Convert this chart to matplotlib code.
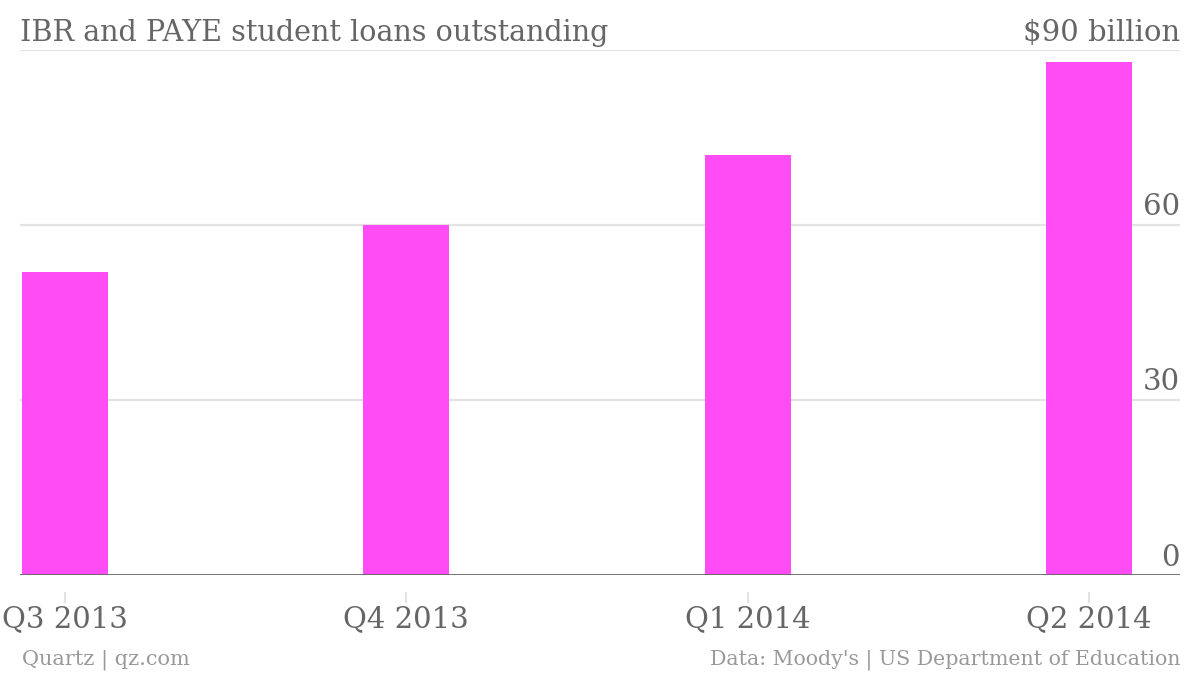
import matplotlib
matplotlib.use("Agg")
import matplotlib.pyplot as plt
from matplotlib.transforms import blended_transform_factory

categories = ["Q3 2013", "Q4 2013", "Q1 2014", "Q2 2014"]
values = [52, 60, 72, 88]
yticks = [0, 30, 60, 90]
ytick_labels = ["0", "30", "60", "$90 billion"]

W, H = 1200, 676
fig = plt.figure(figsize=(W / 100, H / 100), dpi=100)
plt.rcParams['font.family'] = ['DejaVu Serif']
ax = fig.add_axes([20 / W, 1 - 575 / H, 1160 / W, 525 / H])

x = list(range(len(categories)))
ax.bar(x, values, width=0.252, color="#ff4cf5", zorder=3)
ax.set_xlim(-0.132, 3.267)
ax.set_ylim(0, 90)

for v in yticks[1:]:
    ax.axhline(v, color="#e3e3e3", lw=1.6, zorder=1)
ax.axhline(0, color="#666666", lw=2, zorder=4)

for s in ax.spines.values():
    s.set_visible(False)
ax.set_yticks([])
ax.set_xticks(x)
ax.set_xticklabels(categories, fontsize=21, color="#666666")
ax.tick_params(axis="x", length=0, pad=22)

# detached tick marks below the baseline
tb = blended_transform_factory(ax.transData, ax.transAxes)
ax.vlines(x, -28 / 525, -17 / 525, transform=tb, color="#dddddd", lw=1.2,
          clip_on=False)

trans = ax.get_yaxis_transform()
for v, lab in zip(yticks, ytick_labels):
    if v == 90:
        continue
    ax.text(1.0, v + 0.6, lab, transform=trans, ha="right", va="bottom",
            fontsize=21, color="#666666", zorder=5)

fig.text(20 / W, 1 - 33 / H, "IBR and PAYE student loans outstanding",
         ha="left", va="center", fontsize=20.6, color="#666666")
fig.text(1180 / W, 1 - 33 / H, "$90 billion",
         ha="right", va="center", fontsize=21, color="#666666")

fig.text(22 / W, 1 - 660 / H, "Quartz | qz.com", ha="left", va="center",
         fontsize=15, color="#999999")
fig.text(1180 / W, 1 - 660 / H, "Data: Moody's | US Department of Education",
         ha="right", va="center", fontsize=14.8, color="#999999")

fig.savefig("out.png", dpi=100, facecolor="white")
